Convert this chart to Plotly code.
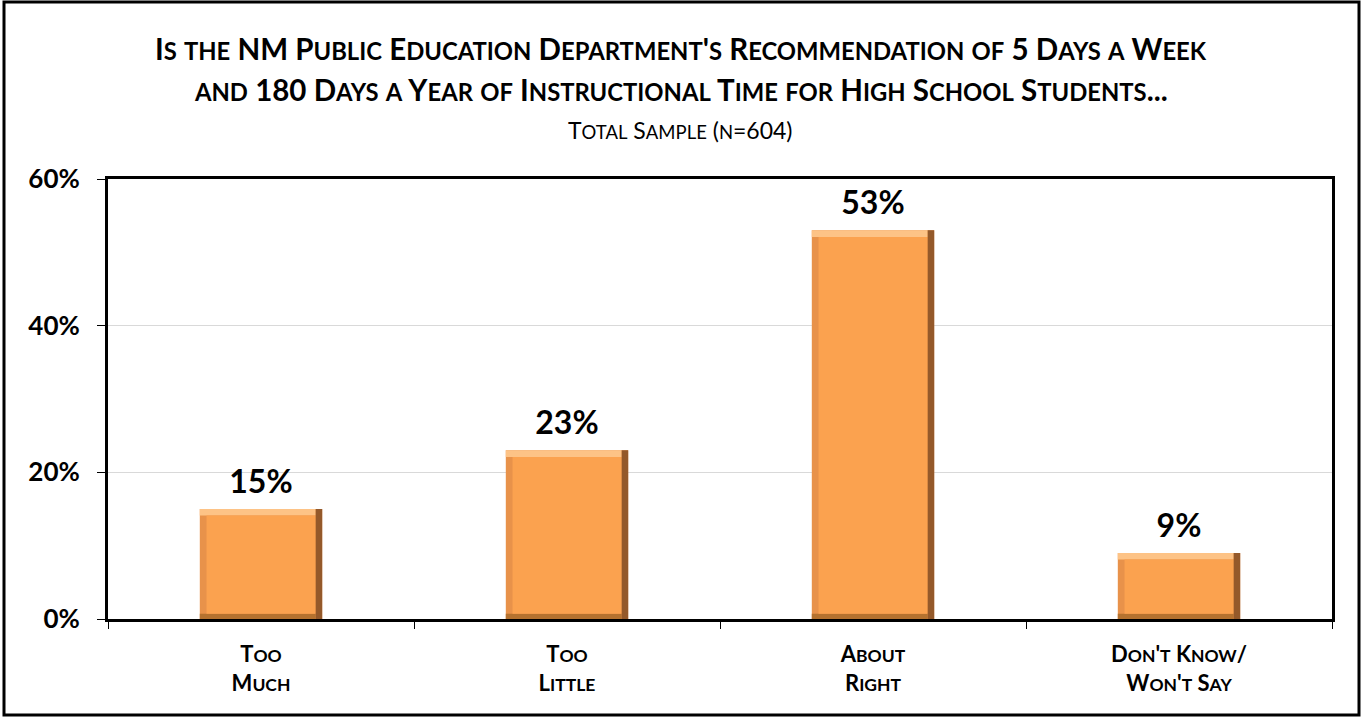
import plotly.graph_objects as go

categories = ["Too<br>Much", "Too<br>Little", "About<br>Right", "Don't Know/<br>Won't Say"]
values = [15, 23, 53, 9]
value_labels = ["15%", "23%", "53%", "9%"]
y_ticks = [0, 20, 40, 60]
y_tick_labels = ["0%", "20%", "40%", "60%"]

title_line1 = "Is the NM Public Education Department's Recommendation of 5 Days a Week"
title_line2 = "and 180 Days a Year of Instructional Time for High School Students..."
subtitle = "Total Sample (n=604)"

FONT = "Lato, 'Open Sans', sans-serif"
W = 0.4        # bar width in category units
BEV_X = 0.022  # bevel width in category units
BEV_Y = 0.9    # bevel height in % units


def small_caps(text, small):
    """Emulate small caps: lowercase letters become uppercase at a smaller size."""
    out = []
    for seg in text.split("<br>"):
        buf, run = "", ""
        for ch in seg:
            if ch.islower():
                run += ch.upper()
            else:
                if run:
                    buf += f"<span style='font-size:{small}px'>{run}</span>"
                    run = ""
                buf += ch
        if run:
            buf += f"<span style='font-size:{small}px'>{run}</span>"
        out.append(buf)
    return "<br>".join(out)


fig = go.Figure()
# base (left / bottom edge tone)
fig.add_trace(go.Bar(x=categories, y=values, width=W, marker=dict(color="#E8924A", line=dict(width=0)),
                     hoverinfo="skip", showlegend=False))
# right dark edge
fig.add_trace(go.Bar(x=categories, y=values, width=BEV_X, offset=W / 2 - BEV_X,
                     marker=dict(color="#94592A", line=dict(width=0)), hoverinfo="skip", showlegend=False))
# top light edge
fig.add_trace(go.Bar(x=categories, y=[BEV_Y] * len(values), base=[v - BEV_Y for v in values], width=W - BEV_X,
                     offset=-W / 2, marker=dict(color="#FDC386", line=dict(width=0)),
                     hoverinfo="skip", showlegend=False))
# bottom darker edge
fig.add_trace(go.Bar(x=categories, y=[BEV_Y * 0.8] * len(values), base=[0] * len(values), width=W - BEV_X,
                     offset=-W / 2, marker=dict(color="#B5722F", line=dict(width=0)),
                     hoverinfo="skip", showlegend=False))
# face
fig.add_trace(go.Bar(x=categories, y=[v - BEV_Y * 1.8 for v in values], base=[BEV_Y * 0.8] * len(values),
                     width=W - 2 * BEV_X, offset=-W / 2 + BEV_X,
                     marker=dict(color="#FBA24F", line=dict(width=0)), hoverinfo="skip", showlegend=False))
# value labels (invisible marker pushes text up a little)
fig.add_trace(go.Scatter(x=categories, y=values, mode="markers+text", text=value_labels,
                         textposition="top center",
                         marker=dict(size=12, color="rgba(0,0,0,0)"),
                         textfont=dict(family=FONT, size=32, color="#000000", weight="bold"),
                         hoverinfo="skip", showlegend=False, cliponaxis=False))

anns = []
for txt, y in [(title_line1, 1.2977), (title_line2, 1.2023)]:
    anns.append(dict(text=small_caps(txt, 23.8), x=0.468, y=y, xref="paper", yref="paper", xanchor="center",
                     yanchor="middle", showarrow=False,
                     font=dict(family=FONT, size=29.5, color="#000000", weight="bold")))
anns.append(dict(text=small_caps(subtitle, 18.5), x=0.468, y=1.111, xref="paper", yref="paper",
                 xanchor="center", yanchor="middle", showarrow=False,
                 font=dict(family=FONT, size=23, color="#000000")))

fig.update_layout(
    width=1362, height=717,
    margin=dict(l=108, r=30, t=179, b=98, pad=0),
    paper_bgcolor="white", plot_bgcolor="white",
    barmode="overlay", bargap=0.6,
    annotations=anns,
    shapes=[dict(type="rect", xref="paper", yref="paper",
                 x0=(4 - 108) / 1224, x1=(1359 - 108) / 1224,
                 y0=(619 - 715) / 440, y1=(619 - 2) / 440,
                 line=dict(color="#000000", width=3), fillcolor="rgba(0,0,0,0)", layer="below")],
    xaxis=dict(type="category", showline=True, linecolor="#000000", linewidth=3, mirror=True,
               ticks="outside", tickson="boundaries", ticklen=7, tickcolor="#000000", tickwidth=1,
               tickvals=categories, ticktext=[small_caps(c, 17.5) for c in categories],
               tickfont=dict(family=FONT, size=22, color="#000000", weight="bold"),
               ticklabelstandoff=14, showgrid=False, zeroline=False),
    yaxis=dict(range=[0, 60], tickvals=y_ticks, ticktext=y_tick_labels, showline=True, linecolor="#000000",
               linewidth=3, mirror=True, ticks="outside", ticklen=8, tickcolor="#000000", tickwidth=1,
               tickfont=dict(family=FONT, size=26, color="#000000", weight="bold"),
               showgrid=True, gridcolor="#D9D9D9", gridwidth=1, zeroline=False, ticklabelstandoff=12),
)

fig.write_html("out.html")
